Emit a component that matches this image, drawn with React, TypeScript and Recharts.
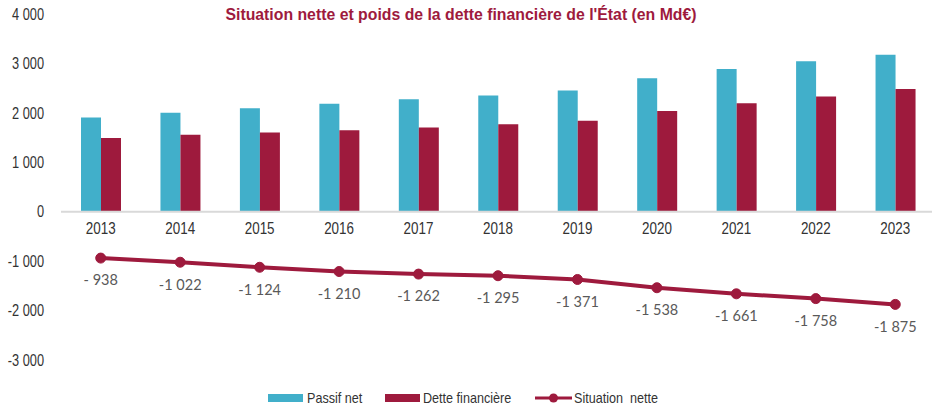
import React from "react";
import {
  ComposedChart,
  Bar,
  Line,
  XAxis,
  YAxis,
  ReferenceLine,
  LabelList,
} from "recharts";

const years = ["2013", "2014", "2015", "2016", "2017", "2018", "2019", "2020", "2021", "2022", "2023"];
const passifNet = [1905, 2000, 2095, 2182, 2277, 2350, 2451, 2701, 2889, 3044, 3178];
const detteFinanciere = [1489, 1556, 1602, 1650, 1703, 1770, 1838, 2040, 2196, 2330, 2485];
const situationNette = [-938, -1022, -1124, -1210, -1262, -1295, -1371, -1538, -1661, -1758, -1875];
const yTicks = [-3000, -2000, -1000, 0, 1000, 2000, 3000, 4000];

const TITLE = "Situation nette et poids de la dette financière de l'État (en Md€)";
const NAME_PASSIF = "Passif net";
const NAME_DETTE = "Dette financière";
const NAME_SITUATION = "Situation  nette";

const TEAL = "#41AFCA";
const CRIMSON = "#9E1A3D";
const SANS = "'Liberation Sans', Arial, sans-serif";

const data = years.map((y, i) => ({
  year: y,
  passif: passifNet[i],
  dette: detteFinanciere[i],
  situation: situationNette[i],
}));

const fmtThousands = (v: number) => {
  const s = Math.abs(v).toString().replace(/\B(?=(\d{3})+(?!\d))/g, " ");
  return (v < 0 ? "-" : "") + s;
};

const fmtSituation = (v: any) => {
  const n = Number(v);
  if (n < 0 && n > -1000) return "- " + Math.abs(n);
  return fmtThousands(n);
};

const YTick = (props: any) => {
  const { x, y, payload } = props;
  return (
    <text
      transform={`translate(${x},${y}) scale(0.8,1)`}
      textAnchor="end"
      dy="0.355em"
      fill="#333"
      fontFamily={SANS}
      fontSize={16}
    >
      {fmtThousands(payload.value)}
    </text>
  );
};

const YearLabel = (props: any) => {
  const vb = props.viewBox || {};
  const cx = (vb.x ?? props.x) + (vb.width ? vb.width / 2 : 0);
  const cy = (vb.y ?? props.y) + (vb.height ?? 0);
  return (
    <text
      transform={`translate(${cx},${cy + 17}) scale(0.84,1)`}
      textAnchor="middle"
      dy="0.355em"
      fill="#333"
      fontFamily={SANS}
      fontSize={16}
    >
      {props.value}
    </text>
  );
};

const legendText: React.CSSProperties = {
  position: "absolute",
  top: 0,
  transform: "scaleX(0.84)",
  transformOrigin: "left center",
  whiteSpace: "pre",
  fontFamily: SANS,
  fontSize: 15,
  color: "#333",
  lineHeight: "18px",
};

export default function App() {
  return (
    <div
      style={{
        position: "absolute",
        left: 0,
        top: 0,
        width: 932,
        height: 410,
        overflow: "hidden",
        background: "#fff",
      }}
    >
      <div
        style={{
          position: "absolute",
          left: 0,
          top: 5,
          width: 922,
          textAlign: "center",
          fontFamily: SANS,
          fontWeight: "bold",
          fontSize: 17,
          color: CRIMSON,
          zIndex: 2,
          transform: "scaleX(0.93)",
          transformOrigin: "461px center",
        }}
      >
        {TITLE}
      </div>
      <ComposedChart
        width={940}
        height={410}
        data={data}
        margin={{ top: 14, right: 5, bottom: 50, left: 0 }}
        barCategoryGap={20}
        barGap={0}
      >
        <XAxis dataKey="year" hide />
        <YAxis
          width={61}
          domain={[-3000, 4000]}
          ticks={yTicks}
          interval={0}
          axisLine={false}
          tickLine={false}
          tickSize={0}
          tickMargin={17}
          tick={<YTick />}
        />
        <ReferenceLine y={0} stroke="#d9d9d9" strokeWidth={2} />
        <Bar dataKey="passif" name={NAME_PASSIF} fill={TEAL} isAnimationActive={false} />
        <Bar dataKey="dette" name={NAME_DETTE} fill={CRIMSON} isAnimationActive={false} />
        <Line
          dataKey={() => 0}
          stroke="none"
          dot={false}
          activeDot={false}
          legendType="none"
          isAnimationActive={false}
        >
          <LabelList dataKey="year" content={<YearLabel />} />
        </Line>
        <Line
          dataKey="situation"
          name={NAME_SITUATION}
          stroke={CRIMSON}
          strokeWidth={4}
          dot={{ r: 5, fill: CRIMSON, stroke: CRIMSON, strokeWidth: 1 }}
          activeDot={false}
          isAnimationActive={false}
        >
          <LabelList
            dataKey="situation"
            position="bottom"
            offset={17}
            formatter={fmtSituation}
            fill="#595959"
            fontFamily="Lato, 'Open Sans', sans-serif"
            fontSize={14.5}
          />
        </Line>
      </ComposedChart>
      <div style={{ position: "absolute", left: 0, top: 389, width: 932, height: 18 }}>
        <span style={{ position: "absolute", left: 268, top: 5, width: 35, height: 8, background: TEAL }} />
        <span style={{ ...legendText, left: 307 }}>{NAME_PASSIF}</span>
        <span style={{ position: "absolute", left: 385, top: 5, width: 35, height: 8, background: CRIMSON }} />
        <span style={{ ...legendText, left: 423 }}>{NAME_DETTE}</span>
        <svg width={37} height={12} style={{ position: "absolute", left: 535, top: 3 }}>
          <line x1={0} y1={6} x2={37} y2={6} stroke={CRIMSON} strokeWidth={3} />
          <circle cx={18.5} cy={6} r={4.5} fill={CRIMSON} />
        </svg>
        <span style={{ ...legendText, left: 574 }}>{NAME_SITUATION}</span>
      </div>
    </div>
  );
}
